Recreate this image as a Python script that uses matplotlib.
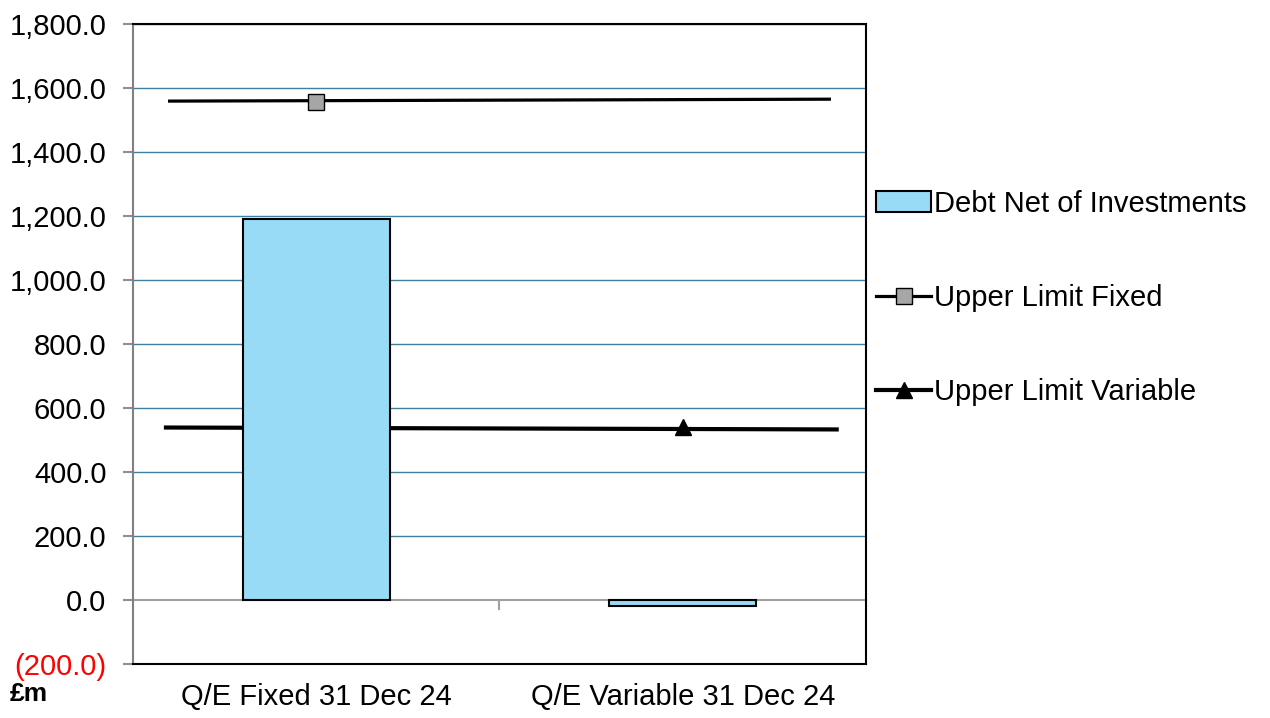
import matplotlib.pyplot as plt
import numpy as np
from matplotlib.ticker import FuncFormatter

plt.rcParams['font.family'] = ['Liberation Sans', 'DejaVu Sans']

## data (GBP m)
categories = ['Q/E Fixed 31 Dec 24', 'Q/E Variable 31 Dec 24']
debt_net = [1190.0, -20.0]
upper_fixed = [1559.0, 1565.0]      # limit line, left end / right end
upper_fixed_marker = 1557.0         # marker at the fixed category
upper_variable = [539.0, 533.0]
upper_variable_marker = 540.0       # marker at the variable category
y_ticks = np.arange(-200, 1801, 200)

# horizontal reach of the limit lines (in category units)
fixed_span = [-0.4, 1.4]
variable_span = [-0.41, 1.42]

fig = plt.figure(figsize=(12.7, 7.18), dpi=100)
ax = fig.add_axes([0.1047, 0.0752, 0.5772, 0.8914])

x = np.arange(len(categories))

ax.plot(variable_span, upper_variable, color='black', lw=3, zorder=2)
ax.plot(x[1], upper_variable_marker, marker='^', ms=12, color='black', zorder=4)
ax.bar(x, debt_net, width=0.4, color='#97DBF7', edgecolor='black', lw=1.5,
       zorder=3, label='Debt Net of Investments')
ax.plot(fixed_span, upper_fixed, color='black', lw=2.3, zorder=4)
ax.plot(x[0], upper_fixed_marker, marker='s', ms=12, mfc='#A6A6A6',
        mec='black', mew=1, zorder=5)

# legend proxies
h_fixed, = ax.plot([], [], color='black', lw=2.3, marker='s', ms=11,
                   mfc='#A6A6A6', mec='black', label='Upper Limit Fixed')
h_var, = ax.plot([], [], color='black', lw=3, marker='^', ms=11,
                 label='Upper Limit Variable')

ax.set_xlim(-0.5, 1.5)
ax.set_ylim(-200, 1800)
ax.set_yticks(y_ticks)
ax.yaxis.set_major_formatter(FuncFormatter(
    lambda v, p: f'({abs(v):,.1f})' if v < 0 else f'{v:,.1f}'))
ax.tick_params(axis='y', labelsize=21, length=7, width=1.5, color='#909090', pad=12)
ax.get_yticklabels()[0].set_color('red')
ax.set_xticks(x)
ax.set_xticklabels(categories)
ax.tick_params(axis='x', labelsize=21, length=0, pad=14)

ax.yaxis.grid(True, color='#3F7F9F', lw=1)
ax.set_axisbelow(True)
# zero line is the grey category axis, not a grid line
for v, gl in zip(y_ticks, ax.yaxis.get_gridlines()):
    if v <= 0:
        gl.set_visible(False)

for s in ['top', 'right', 'bottom']:
    ax.spines[s].set_color('black')
    ax.spines[s].set_linewidth(1.5)
ax.spines['left'].set_color('#808080')
ax.spines['left'].set_linewidth(1.5)

# category axis crossing at zero
zero = ax.secondary_xaxis(200 / 2000)
zero.set_xticks([0.5])
zero.set_xticklabels([])
zero.tick_params(length=7, width=1.5, color='#A0A0A0', direction='out')
zero.spines['bottom'].set_color('#A0A0A0')
zero.spines['bottom'].set_linewidth(1.5)

fig.text(10 / 1270, 1 - 694 / 718, '£m', fontsize=19, fontweight='bold', va='center')

bar_handle = ax.containers[0]
fig.legend([bar_handle, h_fixed, h_var],
           ['Debt Net of Investments', 'Upper Limit Fixed', 'Upper Limit Variable'],
           loc='center left', bbox_to_anchor=(876 / 1270, 1 - 298 / 718),
           frameon=False, fontsize=21, labelspacing=2.27, handlelength=1.9,
           handletextpad=0.1, borderpad=0, borderaxespad=0)

fig.savefig('out.png', dpi=100)
